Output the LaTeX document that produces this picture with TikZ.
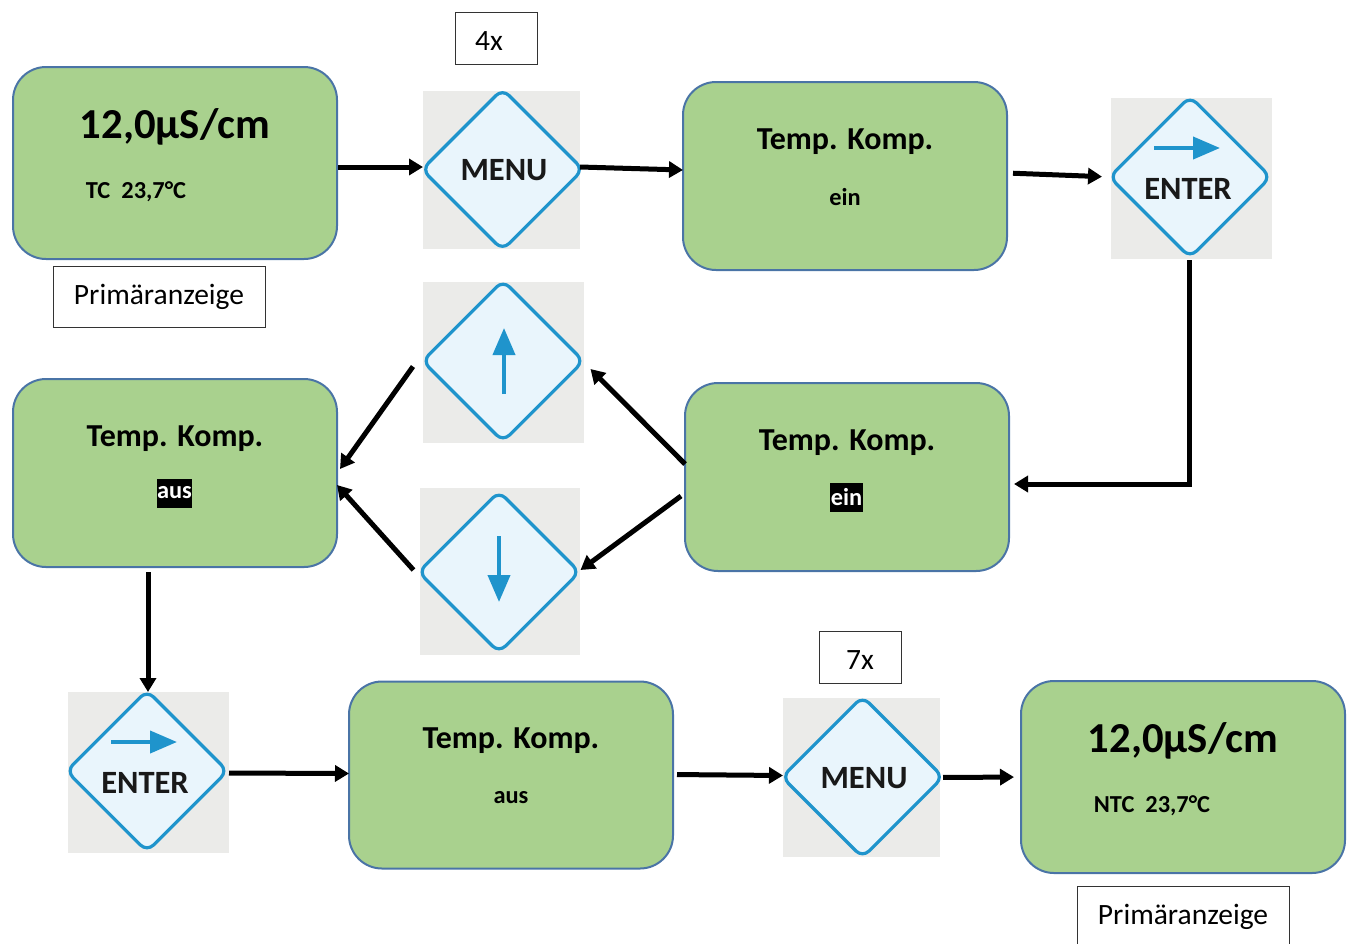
\documentclass[tikz,border=0pt]{standalone}
\usepackage{fontspec}
\setmainfont{Carlito}
\usetikzlibrary{arrows.meta,shapes.geometric}
\definecolor{panelfill}{HTML}{A9D18E}
\definecolor{paneledge}{HTML}{4A74A6}
\definecolor{keygrey}{HTML}{EBEBE9}
\definecolor{keyface}{HTML}{E9F5FC}
\definecolor{keyblue}{HTML}{1F94CC}
\tikzset{
	panel/.style={draw=paneledge,fill=panelfill,line width=2pt,rounded corners=33pt,minimum width=324pt,minimum height=#1,outer sep=0pt},
	tagbox/.style={draw=black!80,line width=0.9pt,font=\fontsize{29.5}{32}\selectfont,inner sep=0pt,outer sep=0pt},
	tagtext/.style={font=\fontsize{29.5}{32}\selectfont},
	keybg/.style={fill=keygrey,inner sep=0pt,outer sep=0pt},
	keyshape/.style={diamond,draw=keyblue,fill=keyface,line width=3.2pt,rounded corners=9pt,minimum width=#1,minimum height=#1,inner sep=0pt,outer sep=0pt},
	keytext/.style={font=\bfseries\fontsize{32.5}{34}\selectfont,text=black!90},
	bigtext/.style={font=\bfseries\fontsize{42.7}{45}\selectfont},
	headtext/.style={font=\bfseries\fontsize{32}{34}\selectfont},
	subtext/.style={font=\bfseries\fontsize{24.4}{26}\selectfont},
	seltext/.style={subtext,fill=black,text=white,inner sep=0pt,minimum width=33pt,minimum height=29pt},
	flow/.style={line width=5pt,-{Triangle[length=14pt,width=16pt]}},
	icon/.style={line width=4pt,keyblue,-{Triangle[length=27pt,width=22pt]}}
}
\begin{document}
\begin{tikzpicture}[x=1pt,y=-1pt,line join=miter]
	\useasboundingbox (0,0) rectangle (1351,943);
	% panels
	\node[panel=192pt] (mainA) at (175,163) {};
	\node[panel=188pt] (compA) at (845,176) {};
	\node[panel=188pt] (compB) at (847,477) {};
	\node[panel=188pt] (compC) at (175,473) {};
	\node[panel=187pt] (compD) at (511,775) {};
	\node[panel=192pt] (mainB) at (1183,777) {};
	% panel texts
	\node[bigtext] (mainAval) at (175,127) {12,0µS/cm};
	\node[subtext] (mainAsub) at (136,192) {TC\ \ 23,7°C};
	\node[headtext] (compAhead) at (845,142) {Temp. Komp.};
	\node[subtext] (compAsub) at (845,197) {ein};
	\node[headtext] (compBhead) at (847,443) {Temp. Komp.};
	\node[seltext] (compBsub) at (846.5,497) {ein};
	\node[headtext] (compChead) at (175,439) {Temp. Komp.};
	\node[seltext,minimum width=35pt] (compCsub) at (174.5,493) {aus};
	\node[headtext] (compDhead) at (511,741) {Temp. Komp.};
	\node[subtext] (compDsub) at (511,798) {aus};
	\node[bigtext] (mainBval) at (1183,741) {12,0µS/cm};
	\node[subtext] (mainBsub) at (1152,806) {NTC\ \ 23,7°C};
	% text boxes
	\node[tagbox,minimum width=82pt,minimum height=52pt] (countA) at (496,38) {};
	\node[tagtext] (countAtxt) at (489,41) {4x};
	\node[tagbox,minimum width=82pt,minimum height=52pt] (countB) at (860,657) {};
	\node[tagtext] (countBtxt) at (860,660) {7x};
	\node[tagbox,minimum width=212pt,minimum height=61pt] (primA) at (159,296.5) {Primäranzeige};
	\node[tagbox,minimum width=212pt,minimum height=61pt] (primB) at (1183,916.5) {Primäranzeige};
	% keys
	\foreach \n/\x/\y/\w/\h/\cx/\cy in {menuA/501.5/170/157/158/502.5/169.5,enterA/1191.5/178.5/161/161/1190/177,
		upkey/503.5/362.5/161/161/503/361,downkey/500/571.5/160/167/499/572,
		enterB/148.5/772.5/161/161/147/771,menuB/861.5/777.5/157/159/862.5/777}
	{\node[keybg,minimum width=\w pt,minimum height=\h pt] (\n bg) at (\x,\y) {};
		\node[keyshape=161pt] (\n) at (\cx,\cy) {};}
	\node[keytext] (menuAtxt) at (504,170) {MENU};
	\node[keytext] (menuBtxt) at (864,778) {MENU};
	\foreach \n in {enterA,enterB}
	{\node[keytext] (\n txt) at ([shift={(-2pt,-12pt)}]\n.center) {ENTER};
		\draw[icon] ([shift={(-36pt,29pt)}]\n.center) -- ([shift={(30pt,29pt)}]\n.center);}
	\draw[icon] ([shift={(1pt,-33pt)}]upkey.center) -- ([shift={(1pt,33pt)}]upkey.center);
	\draw[icon] ([shift={(0pt,36pt)}]downkey.center) -- ([shift={(0pt,-30pt)}]downkey.center);
	% connectors
	\draw[flow,shorten <=1pt] ([yshift=-4pt]mainA.east) -- ([yshift=3pt]menuAbg.west);
	\draw[flow] ([yshift=3pt]menuAbg.east) -- ([yshift=6pt]compA.west);
	\draw[flow,shorten <=6pt,shorten >=9pt] ([yshift=3pt]compA.east) -- ([yshift=1.5pt]enterAbg.west);
	\draw[flow,shorten <=1pt,shorten >=5pt] ([xshift=-2.5pt]enterAbg.south) |- ([yshift=-7pt]compB.east);
	\draw[flow] ([yshift=13pt]compB.west) -- ([shift={(7pt,-8pt)}]upkey.east);
	\draw[flow] ([shift={(-4pt,-19pt)}]compB.west) -- ([shift={(1pt,2pt)}]downkey.east);
	\draw[flow] ([shift={(-10pt,-4pt)}]upkeybg.west) -- ([shift={(3pt,4pt)}]compC.east);
	\draw[flow] ([shift={(-5pt,2pt)}]downkey.west) -- ([shift={(0pt,-12pt)}]compC.east);
	\draw[flow,shorten <=5pt] ([xshift=-27pt]compC.south) -- ([xshift=-0.5pt]enterBbg.north);
	\draw[flow] ([yshift=-0.5pt]enterBbg.east) -- ([yshift=1.5pt]compD.west);
	\draw[flow,shorten <=4pt] ([yshift=0.5pt]compD.east) -- ([yshift=2pt]menuBbg.west);
	\draw[flow,shorten <=3pt,shorten >=7pt] (menuBbg.east) -- (mainB.west);
\end{tikzpicture}
\end{document}
